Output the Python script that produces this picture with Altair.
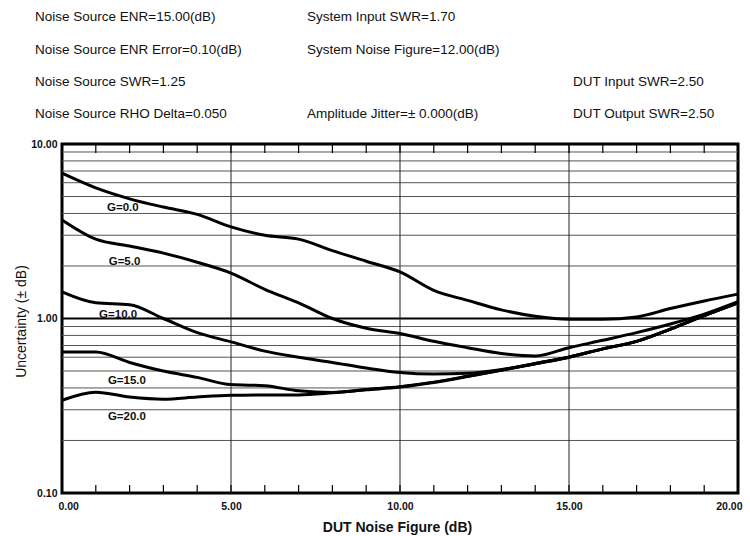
import altair as alt
import pandas as pd

# ---------------- data ----------------
X_NF = list(range(0, 21))  # DUT noise figure (dB)

G_00 = [6.8, 5.6, 4.85, 4.35, 3.95, 3.35, 3.0, 2.85, 2.45, 2.13, 1.85, 1.45, 1.27, 1.12, 1.03, 0.99, 0.99, 1.02, 1.14, 1.26, 1.38]
G_05 = [3.67, 2.85, 2.6, 2.37, 2.1, 1.82, 1.47, 1.23, 1.0, 0.88, 0.82, 0.74, 0.68, 0.63, 0.61, 0.68, 0.75, 0.83, 0.93, 1.06, 1.25]
G_10 = [1.42, 1.23, 1.2, 1.0, 0.83, 0.735, 0.65, 0.6, 0.56, 0.52, 0.49, 0.48, 0.485, 0.51, 0.55, 0.6, 0.67, 0.74, 0.87, 1.04, 1.23]
G_15 = [0.643, 0.643, 0.56, 0.5, 0.46, 0.418, 0.412, 0.385, 0.377, 0.392, 0.407, 0.432, 0.467, 0.507, 0.552, 0.602, 0.67, 0.74, 0.87, 1.04, 1.23]
G_20 = [0.34, 0.378, 0.355, 0.345, 0.355, 0.363, 0.365, 0.365, 0.375, 0.39, 0.405, 0.43, 0.465, 0.505, 0.55, 0.6, 0.67, 0.74, 0.87, 1.04, 1.23]

SERIES = ["G=0.0", "G=5.0", "G=10.0", "G=15.0", "G=20.0"]
SERIES_VALUES = [G_00, G_05, G_10, G_15, G_20]

LABEL_X = [1.8, 1.85, 1.66, 1.92, 1.92]
LABEL_Y = [4.27, 2.12, 1.05, 0.441, 0.271]

X_LABEL_TICKS = [0, 5, 10, 15, 20]
X_MAJOR_GRID = [5, 10, 15]
X_MINOR_TICKS = [i for i in range(1, 20)]
Y_LABEL_TICKS = [0.1, 1.0, 10.0]
Y_MINOR_GRID = [0.2, 0.3, 0.4, 0.5, 0.6, 0.7, 0.8, 0.9, 2, 3, 4, 5, 6, 7, 8, 9]
Y_MAJOR_LINE = [1.0]

HEADER_LEFT = ["Noise Source  ENR=15.00(dB)", "Noise Source  ENR  Error=0.10(dB)",
               "Noise Source  SWR=1.25", "Noise Source  RHO  Delta=0.050"]
HEADER_MID = ["System  Input  SWR=1.70", "System  Noise  Figure=12.00(dB)", "",
              "Amplitude  Jitter=\u00b1 0.000(dB)"]
HEADER_RIGHT = ["", "", "DUT  Input  SWR=2.50", "DUT  Output  SWR=2.50"]

X_TITLE = "DUT Noise Figure (dB)"
Y_TITLE = "Uncertainty (\u00b1 dB)"

# ---------------- layout ----------------
W, H = 676, 349
FONT = "Liberation Sans, Arial, Helvetica, sans-serif"

rows = []
for name, vals in zip(SERIES, SERIES_VALUES):
    for x, y in zip(X_NF, vals):
        rows.append({"series": name, "x": x, "y": y})
curves_df = pd.DataFrame(rows)

xscale = alt.Scale(domain=[0, 20], nice=False, zero=False)
yscale = alt.Scale(type="log", domain=[0.1, 10], nice=False)

x_axis = alt.Axis(values=X_LABEL_TICKS, format=".2f", grid=False, ticks=False, domain=False,
                  labelFont=FONT, labelFontSize=10.5, labelFontWeight="bold", labelColor="#111",
                  labelPadding=8, labelFlush=True, labelFlushOffset=4, title=X_TITLE,
                  titleFont=FONT, titleFontSize=14,
                  titleFontWeight="bold", titleColor="#111", titleX=335, titleY=34,
                  titleBaseline="middle", titleAlign="center")
y_axis = alt.Axis(values=Y_LABEL_TICKS, format=".2f", grid=False, ticks=False, domain=False,
                  labelFont=FONT, labelFontSize=10.5, labelFontWeight="bold", labelColor="#111",
                  labelPadding=5, labelFlush=False, labelOverlap=False, title=Y_TITLE, titleFont=FONT,
                  titleFontSize=14, titleFontWeight="normal", titleColor="#111", titleX=-41,
                  titleY=177, titleAngle=-90, titleAlign="center", titleBaseline="middle")

minor_grid = alt.Chart(pd.DataFrame({"y": Y_MINOR_GRID})).mark_rule(
    color="#555", strokeWidth=1).encode(y=alt.Y("y:Q", scale=yscale, axis=y_axis))

major_line = alt.Chart(pd.DataFrame({"y": Y_MAJOR_LINE})).mark_rule(
    color="black", strokeWidth=2).encode(y=alt.Y("y:Q", scale=yscale))

vgrid = alt.Chart(pd.DataFrame({"x": X_MAJOR_GRID})).mark_rule(
    color="#222", strokeWidth=1).encode(x=alt.X("x:Q", scale=xscale, axis=x_axis))

ticks_bottom = alt.Chart(pd.DataFrame({"x": X_MINOR_TICKS})).mark_rule(
    color="black", strokeWidth=1.2).encode(
    x=alt.X("x:Q", scale=xscale), y=alt.value(H - 8), y2=alt.value(H))
ticks_top = alt.Chart(pd.DataFrame({"x": X_MINOR_TICKS})).mark_rule(
    color="black", strokeWidth=1.2).encode(
    x=alt.X("x:Q", scale=xscale), y=alt.value(0), y2=alt.value(9))

curves = alt.Chart(curves_df).mark_line(
    color="black", strokeWidth=3, interpolate="monotone").encode(
    x=alt.X("x:Q", scale=xscale), y=alt.Y("y:Q", scale=yscale), detail="series:N")

labels = alt.Chart(pd.DataFrame({"x": LABEL_X, "y": LABEL_Y, "t": SERIES})).mark_text(
    font=FONT, fontSize=11.5, fontWeight="bold", color="#111", align="center",
    baseline="middle").encode(
    x=alt.X("x:Q", scale=xscale), y=alt.Y("y:Q", scale=yscale), text="t:N")

layers = [minor_grid, major_line, vgrid, ticks_bottom, ticks_top, curves, labels]

ROW_Y = [-127, -94, -62, -30]
for col_x, texts in [(-27, HEADER_LEFT), (245, HEADER_MID), (511, HEADER_RIGHT)]:
    for ry, s in zip(ROW_Y, texts):
        if not s:
            continue
        layers.append(
            alt.Chart(pd.DataFrame({"t": [s]})).mark_text(
                font=FONT, fontSize=13.5, color="#111", align="left", baseline="middle",
                x=col_x, y=ry).encode(text="t:N"))

chart = alt.layer(*layers).properties(
    width=W, height=H,
    autosize=alt.AutoSizeParams(type="none"),
    padding={"left": 62, "top": 144, "right": 12, "bottom": 43},
    background="white",
).configure_view(stroke="black", strokeWidth=3)

chart.save("out.html", embed_options={"renderer": "svg", "actions": False})
